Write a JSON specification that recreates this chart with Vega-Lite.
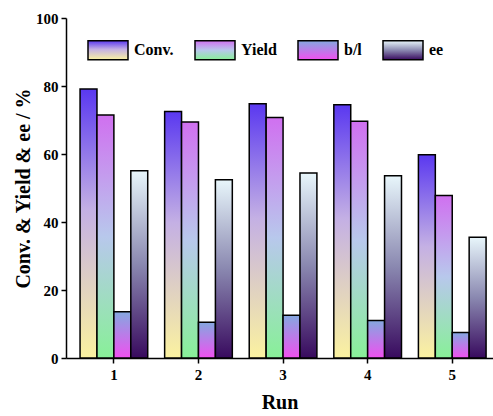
{
  "$schema": "https://vega.github.io/schema/vega-lite/v6.json",
  "width": 427,
  "height": 340,
  "autosize": {"type": "none"},
  "padding": {"left": 66, "top": 18, "right": 0, "bottom": 58},
  "background": "white",
  "config": {"view": {"stroke": null}, "font": "Liberation Serif"},
  "data": {
    "values": [
      {"run": "1", "series": "Conv.", "value": 79.1},
      {"run": "1", "series": "Yield", "value": 71.5},
      {"run": "1", "series": "b/l", "value": 13.6},
      {"run": "1", "series": "ee", "value": 55.1},
      {"run": "2", "series": "Conv.", "value": 72.5},
      {"run": "2", "series": "Yield", "value": 69.4},
      {"run": "2", "series": "b/l", "value": 10.5},
      {"run": "2", "series": "ee", "value": 52.4},
      {"run": "3", "series": "Conv.", "value": 74.8},
      {"run": "3", "series": "Yield", "value": 70.7},
      {"run": "3", "series": "b/l", "value": 12.6},
      {"run": "3", "series": "ee", "value": 54.4},
      {"run": "4", "series": "Conv.", "value": 74.5},
      {"run": "4", "series": "Yield", "value": 69.6},
      {"run": "4", "series": "b/l", "value": 11.0},
      {"run": "4", "series": "ee", "value": 53.6},
      {"run": "5", "series": "Conv.", "value": 59.8},
      {"run": "5", "series": "Yield", "value": 47.8},
      {"run": "5", "series": "b/l", "value": 7.5},
      {"run": "5", "series": "ee", "value": 35.5}
    ]
  },
  "mark": {
    "type": "bar",
    "strokeWidth": 1.5,
    "strokeOpacity": 1,
    "fill": {"expr": "(datum.series === 'Conv.' || datum.value === 'Conv.') ? {gradient: 'linear', x1: 0, y1: 0, x2: 0, y2: 1, stops: [{offset: 0, color: '#5a38f0'}, {offset: 0.45, color: '#c4b0e4'}, {offset: 1, color: '#fbf2a0'}]} : (datum.series === 'Yield' || datum.value === 'Yield') ? {gradient: 'linear', x1: 0, y1: 0, x2: 0, y2: 1, stops: [{offset: 0, color: '#d070f0'}, {offset: 0.5, color: '#b8c8ec'}, {offset: 1, color: '#88f098'}]} : (datum.series === 'b/l' || datum.value === 'b/l') ? {gradient: 'linear', x1: 0, y1: 0, x2: 0, y2: 1, stops: [{offset: 0, color: '#84a8e0'}, {offset: 1, color: '#f050f0'}]} : {gradient: 'linear', x1: 0, y1: 0, x2: 0, y2: 1, stops: [{offset: 0, color: '#e8f6fb'}, {offset: 0.5, color: '#8a88b0'}, {offset: 1, color: '#380a5e'}]}"}
  },
  "encoding": {
    "x": {
      "field": "run",
      "type": "nominal",
      "title": "Run",
      "scale": {"paddingInner": 0.2, "paddingOuter": 0.124, "align": 0.67},
      "axis": {
        "labelAngle": 0,
        "labelFontSize": 15,
        "labelFontWeight": "bold",
        "labelColor": "black",
        "labelPadding": 4,
        "titleFontSize": 20,
        "titleFontWeight": "bold",
        "titleColor": "black",
        "titlePadding": 10,
        "domainColor": "black",
        "domainWidth": 1.5,
        "tickColor": "black",
        "tickWidth": 1.5,
        "tickSize": 5
      }
    },
    "xOffset": {"field": "series", "sort": ["Conv.", "Yield", "b/l", "ee"], "scale": {"paddingInner": 0, "paddingOuter": 0}},
    "y": {
      "field": "value",
      "type": "quantitative",
      "title": "Conv. & Yield & ee / %",
      "scale": {"domain": [0, 100]},
      "axis": {
        "values": [0, 20, 40, 60, 80, 100],
        "grid": false,
        "labelFontSize": 15,
        "labelFontWeight": "bold",
        "labelColor": "black",
        "labelPadding": 3,
        "titleFontSize": 20,
        "titleFontWeight": "bold",
        "titleColor": "black",
        "titlePadding": 2,
        "domainColor": "black",
        "domainWidth": 1.5,
        "tickColor": "black",
        "tickWidth": 1.5,
        "tickSize": 5
      }
    },
    "stroke": {
      "field": "series",
      "type": "nominal",
      "sort": ["Conv.", "Yield", "b/l", "ee"],
      "scale": {"domain": ["Conv.", "Yield", "b/l", "ee"], "range": ["black", "black", "black", "black"]},
      "legend": {
        "title": null,
        "orient": "none",
        "legendX": 21,
        "legendY": 11,
        "direction": "horizontal",
        "columns": 4,
        "columnPadding": 18,
        "symbolType": "M-1,-0.475L1,-0.475L1,0.475L-1,0.475Z",
        "symbolSize": 1600,
        "symbolStrokeWidth": 1.5,
        "symbolOpacity": 1,
        "labelFont": "Liberation Serif",
        "labelFontSize": 16,
        "labelFontWeight": "bold",
        "labelColor": "black",
        "labelOffset": 5
      }
    }
  }
}
